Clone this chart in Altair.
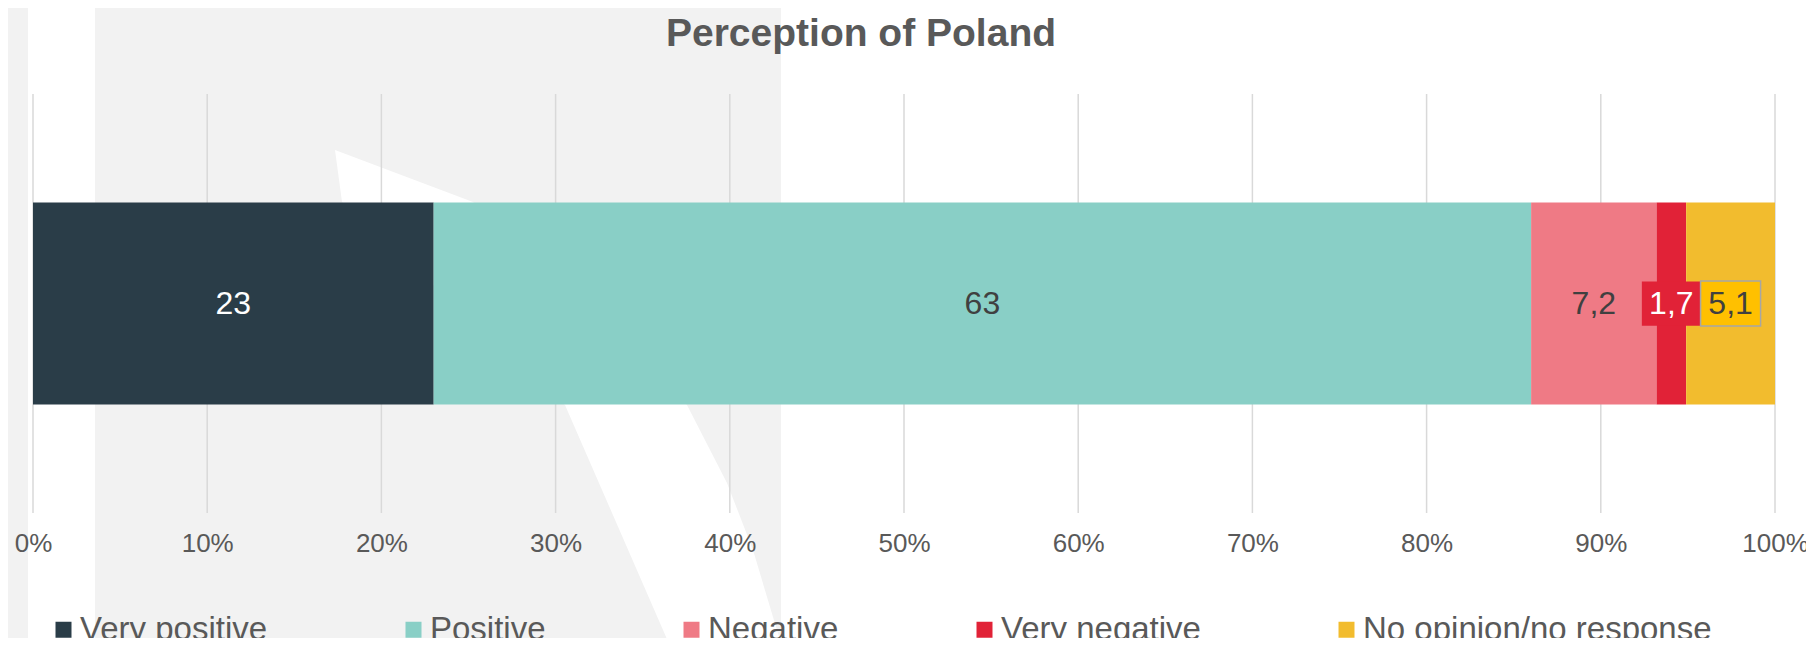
import altair as alt
import pandas as pd

# ---- data ----
categories = ["Very positive", "Positive", "Negative", "Very negative", "No opinion/no response"]
values = [23, 63, 7.2, 1.7, 5.1]
tick_values = [0, 10, 20, 30, 40, 50, 60, 70, 80, 90, 100]
row_name = ["Poland"]
title_text = ["Perception of Poland"]

# ---- styles ----
colors = ["#2A3D48", "#89CFC6", "#EF7A85", "#E12237", "#F2BC2E"]
white_text = ["Very positive", "Very negative"]
FONT = "Liberation Sans"
GREY_TEXT = "#595959"
W, H = 1742, 419

# decorative watermark swoosh (background styling, not data)
SWOOSH_PATH = ("M-0.894,-0.992 L-0.342,-0.784 L0.514,0.028 L0.674,0.34 L0.778,0.608 "
               "L0.858,0.876 L0.894,0.992 L0.446,0.992 L0.026,0.028 L-0.866,-0.784 Z")

df = pd.DataFrame({
    "row": row_name * len(categories),
    "category": categories,
    "value": values,
    "order": list(range(len(categories))),
})
ticks_df = pd.DataFrame({"tick": tick_values})

xscale = alt.Scale(domain=[0, 100], nice=False, zero=True)
xaxis = alt.Axis(values=tick_values, labelExpr="datum.value + '%'", grid=False, domain=False,
                 ticks=False, tickSize=0, labelFontSize=26, labelFont=FONT, labelColor=GREY_TEXT,
                 labelPadding=17, labelFlush=False, labelOverlap=False, labelBound=False,
                 zindex=1, title=None)
yenc = alt.Y("row:N", axis=None)

base = (
    alt.Chart(df)
    .transform_stack(stack="value", groupby=["row"],
                     sort=[alt.SortField("order", order="ascending")], as_=["v0", "v1"])
    .transform_calculate(mid="(datum.v0 + datum.v1) / 2",
                         label="replace(toString(datum.value), '.', ',')")
)

one = alt.Data(values=[{"a": 1}])
bg = alt.Chart(one).mark_rect(color="#F2F2F2").encode(
    x=alt.value(-25), x2=alt.value(748), y=alt.value(-86), y2=alt.value(544))
strip = alt.Chart(one).mark_rect(color="#FFFFFF").encode(
    x=alt.value(-5), x2=alt.value(62), y=alt.value(-86), y2=alt.value(544))
swoosh = alt.Chart(one).mark_point(
    shape=SWOOSH_PATH, size=500 * 500, filled=True, fill="#FFFFFF", opacity=1, strokeWidth=0
).encode(x=alt.value(525.5), y=alt.value(304))

title = alt.Chart(pd.DataFrame({"t": title_text})).mark_text(
    fontSize=39, fontWeight="bold", color=GREY_TEXT, font=FONT,
    align="center", baseline="alphabetic"
).encode(text="t:N", x=alt.value(828), y=alt.value(-48))

grid = alt.Chart(ticks_df).mark_rule(color="#D9D9D9", strokeWidth=1.5).encode(
    x=alt.X("tick:Q", scale=xscale, axis=xaxis))

bars = base.mark_bar(size=202).encode(
    x=alt.X("v0:Q", scale=xscale, axis=xaxis),
    x2="v1:Q",
    y=yenc,
    color=alt.Color("category:N", scale=alt.Scale(domain=categories, range=colors),
                    legend=alt.Legend(orient="none", legendX=14, legendY=519,
                                      direction="horizontal", columns=5, columnPadding=129,
                                      symbolType="square", symbolSize=256, symbolStrokeWidth=0,
                                      labelFontSize=33, labelFont=FONT, labelColor=GREY_TEXT,
                                      labelOffset=0, labelLimit=600, padding=0, title=None)),
    order=alt.Order("order:Q"),
)

box_path = "M-1,-0.75L1,-0.75L1,0.75L-1,0.75Z"
red_box = base.transform_filter(alt.datum.category == "Very negative").mark_point(
    shape=box_path, size=59 * 59, filled=True, fill="#E12237", opacity=1, strokeWidth=0
).encode(x=alt.X("mid:Q", scale=xscale, axis=xaxis), y=yenc)
yellow_box = base.transform_filter(alt.datum.category == "No opinion/no response").mark_point(
    shape=box_path, size=60 * 60, filled=True, fill="#FFC000", opacity=1,
    stroke="#A6A6A6", strokeWidth=1.5
).encode(x=alt.X("mid:Q", scale=xscale, axis=xaxis), y=yenc)

labels_white = base.transform_filter(
    alt.FieldOneOfPredicate(field="category", oneOf=white_text)
).mark_text(color="#FFFFFF", fontSize=32, font=FONT).encode(
    x=alt.X("mid:Q", scale=xscale, axis=xaxis), y=yenc, text="label:N")
labels_dark = base.transform_filter(
    ~alt.FieldOneOfPredicate(field="category", oneOf=white_text)
).mark_text(color="#404040", fontSize=32, font=FONT).encode(
    x=alt.X("mid:Q", scale=xscale, axis=xaxis), y=yenc, text="label:N")

chart = (
    alt.layer(bg, strip, swoosh, title, grid, bars, red_box, yellow_box, labels_white, labels_dark)
    .properties(
        width=W, height=H,
        autosize=alt.AutoSizeParams(type="none"),
        padding={"left": 25, "top": 86, "right": 31, "bottom": 125},
        background="#FFFFFF",
    )
    .configure_view(stroke=None)
)

chart.save("out.html", embed_options={"renderer": "svg", "actions": False})
